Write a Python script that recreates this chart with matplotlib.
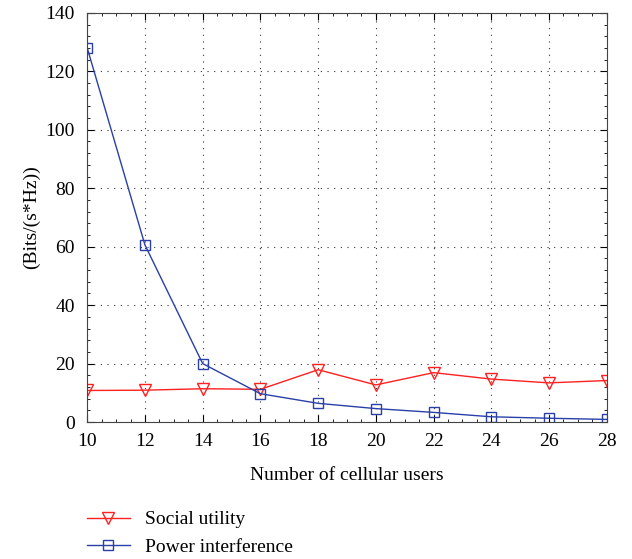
import numpy as np
import matplotlib.pyplot as plt
from matplotlib.ticker import MultipleLocator

# nombre d'utilisateurs cellulaires
users = [10, 12, 14, 16, 18, 20, 22, 24, 26, 28]
social_utility = [10.8, 10.9, 11.4, 11.2, 17.9, 12.7, 16.9, 14.7, 13.4, 14.2]
power_interference = [128.0, 60.6, 20.0, 9.7, 6.4, 4.6, 3.3, 1.8, 1.3, 0.9]

plt.rcParams['font.family'] = ['Liberation Serif', 'DejaVu Serif']
plt.rcParams['font.size'] = 14

fig = plt.figure(figsize=(6.32, 5.59), dpi=100)
ax = fig.add_axes([0.138, 0.245, 0.822, 0.732])

ax.plot(users, social_utility, color='#ff2020', lw=1.0, marker='v', ms=9,
        mfc='none', mec='#ff2020', mew=1.0, label='Social utility')
ax.plot(users, power_interference, color='#2a3fa8', lw=1.0, marker='s', ms=7,
        mfc='none', mec='#2a3fa8', mew=1.0, label='Power interference')

ax.set_xlim(10, 28)
ax.set_ylim(0, 140)
ax.set_xticks(np.arange(10, 29, 2))
ax.set_yticks(np.arange(0, 141, 20))
ax.xaxis.set_minor_locator(MultipleLocator(0.5))
ax.yaxis.set_minor_locator(MultipleLocator(4))
ax.tick_params(which='both', direction='in', top=True, right=True)
ax.tick_params(which='major', length=5, labelsize=14)
ax.tick_params(axis='x', which='major', pad=8)
ax.tick_params(axis='y', which='major', pad=9)
ax.tick_params(which='minor', length=2.5)
ax.grid(True, which='major', color='#333333', linestyle=(0, (1, 5)), lw=0.8)

for sp in ax.spines.values():
    sp.set_color('#444444')

ax.set_xlabel('Number of cellular users', fontsize=14, labelpad=12)
ax.set_ylabel('(Bits/(s*Hz))', fontsize=14, labelpad=4)

fig.legend(loc='upper left', bbox_to_anchor=(0.125, 0.1), frameon=False,
           fontsize=14, handlelength=2.2, handletextpad=0.8, labelspacing=0.5,
           borderaxespad=0)

fig.savefig('out.png', dpi=100)
